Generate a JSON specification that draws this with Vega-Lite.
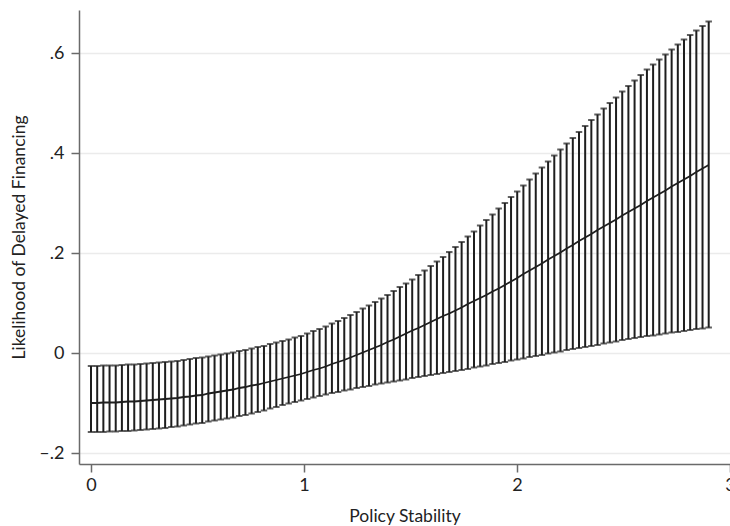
{
  "$schema": "https://vega.github.io/schema/vega-lite/v6.json",
  "width": 651,
  "height": 454,
  "autosize": {"type": "none"},
  "padding": {"left": 79, "top": 10, "right": 0, "bottom": 62},
  "background": "white",
  "data": {"values": [
    {"x":0,"lo":-0.158,"m":-0.100,"hi":-0.026},
    {"x":0.029,"lo":-0.158,"m":-0.100,"hi":-0.026},
    {"x":0.058,"lo":-0.158,"m":-0.099,"hi":-0.025},
    {"x":0.087,"lo":-0.157,"m":-0.099,"hi":-0.025},
    {"x":0.116,"lo":-0.157,"m":-0.099,"hi":-0.025},
    {"x":0.145,"lo":-0.156,"m":-0.098,"hi":-0.024},
    {"x":0.174,"lo":-0.156,"m":-0.097,"hi":-0.023},
    {"x":0.203,"lo":-0.155,"m":-0.097,"hi":-0.023},
    {"x":0.232,"lo":-0.154,"m":-0.096,"hi":-0.022},
    {"x":0.261,"lo":-0.153,"m":-0.095,"hi":-0.021},
    {"x":0.290,"lo":-0.152,"m":-0.094,"hi":-0.020},
    {"x":0.319,"lo":-0.151,"m":-0.093,"hi":-0.019},
    {"x":0.348,"lo":-0.150,"m":-0.092,"hi":-0.018},
    {"x":0.377,"lo":-0.148,"m":-0.091,"hi":-0.017},
    {"x":0.406,"lo":-0.147,"m":-0.090,"hi":-0.016},
    {"x":0.435,"lo":-0.145,"m":-0.088,"hi":-0.014},
    {"x":0.464,"lo":-0.143,"m":-0.087,"hi":-0.012},
    {"x":0.493,"lo":-0.141,"m":-0.085,"hi":-0.010},
    {"x":0.522,"lo":-0.140,"m":-0.084,"hi":-0.009},
    {"x":0.551,"lo":-0.137,"m":-0.081,"hi":-0.007},
    {"x":0.580,"lo":-0.135,"m":-0.079,"hi":-0.005},
    {"x":0.609,"lo":-0.133,"m":-0.077,"hi":-0.003},
    {"x":0.638,"lo":-0.131,"m":-0.075,"hi":-0.001},
    {"x":0.667,"lo":-0.129,"m":-0.073,"hi":0.001},
    {"x":0.696,"lo":-0.126,"m":-0.070,"hi":0.004},
    {"x":0.725,"lo":-0.124,"m":-0.068,"hi":0.006},
    {"x":0.754,"lo":-0.121,"m":-0.065,"hi":0.009},
    {"x":0.783,"lo":-0.118,"m":-0.063,"hi":0.012},
    {"x":0.812,"lo":-0.115,"m":-0.060,"hi":0.014},
    {"x":0.841,"lo":-0.111,"m":-0.057,"hi":0.018},
    {"x":0.870,"lo":-0.108,"m":-0.054,"hi":0.021},
    {"x":0.899,"lo":-0.104,"m":-0.051,"hi":0.024},
    {"x":0.928,"lo":-0.101,"m":-0.048,"hi":0.027},
    {"x":0.957,"lo":-0.098,"m":-0.045,"hi":0.031},
    {"x":0.986,"lo":-0.095,"m":-0.042,"hi":0.034},
    {"x":1.015,"lo":-0.092,"m":-0.038,"hi":0.039},
    {"x":1.044,"lo":-0.089,"m":-0.034,"hi":0.044},
    {"x":1.073,"lo":-0.086,"m":-0.031,"hi":0.048},
    {"x":1.102,"lo":-0.083,"m":-0.027,"hi":0.053},
    {"x":1.131,"lo":-0.080,"m":-0.022,"hi":0.059},
    {"x":1.160,"lo":-0.078,"m":-0.018,"hi":0.064},
    {"x":1.189,"lo":-0.075,"m":-0.014,"hi":0.070},
    {"x":1.218,"lo":-0.073,"m":-0.009,"hi":0.076},
    {"x":1.247,"lo":-0.070,"m":-0.004,"hi":0.082},
    {"x":1.276,"lo":-0.068,"m":0.001,"hi":0.089},
    {"x":1.305,"lo":-0.066,"m":0.006,"hi":0.095},
    {"x":1.334,"lo":-0.063,"m":0.011,"hi":0.102},
    {"x":1.363,"lo":-0.061,"m":0.016,"hi":0.109},
    {"x":1.392,"lo":-0.059,"m":0.022,"hi":0.116},
    {"x":1.421,"lo":-0.057,"m":0.027,"hi":0.124},
    {"x":1.450,"lo":-0.055,"m":0.033,"hi":0.132},
    {"x":1.479,"lo":-0.053,"m":0.039,"hi":0.139},
    {"x":1.508,"lo":-0.050,"m":0.045,"hi":0.147},
    {"x":1.537,"lo":-0.048,"m":0.050,"hi":0.156},
    {"x":1.566,"lo":-0.046,"m":0.056,"hi":0.165},
    {"x":1.595,"lo":-0.044,"m":0.062,"hi":0.174},
    {"x":1.624,"lo":-0.042,"m":0.068,"hi":0.183},
    {"x":1.653,"lo":-0.040,"m":0.074,"hi":0.192},
    {"x":1.682,"lo":-0.038,"m":0.079,"hi":0.202},
    {"x":1.711,"lo":-0.036,"m":0.085,"hi":0.212},
    {"x":1.740,"lo":-0.034,"m":0.091,"hi":0.222},
    {"x":1.769,"lo":-0.032,"m":0.098,"hi":0.233},
    {"x":1.798,"lo":-0.029,"m":0.104,"hi":0.243},
    {"x":1.827,"lo":-0.027,"m":0.110,"hi":0.255},
    {"x":1.856,"lo":-0.025,"m":0.116,"hi":0.266},
    {"x":1.885,"lo":-0.022,"m":0.123,"hi":0.277},
    {"x":1.914,"lo":-0.020,"m":0.129,"hi":0.289},
    {"x":1.943,"lo":-0.018,"m":0.136,"hi":0.300},
    {"x":1.972,"lo":-0.015,"m":0.143,"hi":0.312},
    {"x":2.001,"lo":-0.013,"m":0.150,"hi":0.323},
    {"x":2.030,"lo":-0.011,"m":0.158,"hi":0.335},
    {"x":2.059,"lo":-0.008,"m":0.165,"hi":0.347},
    {"x":2.088,"lo":-0.006,"m":0.172,"hi":0.359},
    {"x":2.117,"lo":-0.004,"m":0.179,"hi":0.371},
    {"x":2.146,"lo":-0.001,"m":0.187,"hi":0.383},
    {"x":2.175,"lo":0.001,"m":0.194,"hi":0.395},
    {"x":2.204,"lo":0.003,"m":0.201,"hi":0.407},
    {"x":2.233,"lo":0.006,"m":0.209,"hi":0.419},
    {"x":2.262,"lo":0.008,"m":0.216,"hi":0.430},
    {"x":2.291,"lo":0.010,"m":0.224,"hi":0.442},
    {"x":2.320,"lo":0.012,"m":0.231,"hi":0.454},
    {"x":2.349,"lo":0.014,"m":0.238,"hi":0.466},
    {"x":2.378,"lo":0.016,"m":0.246,"hi":0.477},
    {"x":2.407,"lo":0.019,"m":0.253,"hi":0.489},
    {"x":2.436,"lo":0.021,"m":0.260,"hi":0.500},
    {"x":2.465,"lo":0.023,"m":0.267,"hi":0.511},
    {"x":2.494,"lo":0.026,"m":0.275,"hi":0.523},
    {"x":2.523,"lo":0.028,"m":0.282,"hi":0.534},
    {"x":2.552,"lo":0.030,"m":0.289,"hi":0.545},
    {"x":2.581,"lo":0.032,"m":0.296,"hi":0.556},
    {"x":2.610,"lo":0.034,"m":0.304,"hi":0.567},
    {"x":2.639,"lo":0.035,"m":0.311,"hi":0.577},
    {"x":2.668,"lo":0.037,"m":0.318,"hi":0.587},
    {"x":2.697,"lo":0.039,"m":0.325,"hi":0.597},
    {"x":2.726,"lo":0.041,"m":0.333,"hi":0.607},
    {"x":2.755,"lo":0.042,"m":0.340,"hi":0.617},
    {"x":2.784,"lo":0.044,"m":0.347,"hi":0.627},
    {"x":2.813,"lo":0.046,"m":0.354,"hi":0.636},
    {"x":2.842,"lo":0.048,"m":0.362,"hi":0.645},
    {"x":2.871,"lo":0.049,"m":0.369,"hi":0.654},
    {"x":2.900,"lo":0.051,"m":0.376,"hi":0.663}
  ]},
  "encoding": {
    "x": {
      "field": "x", "type": "quantitative",
      "scale": {"domain": [-0.0564, 3.0], "nice": false, "zero": false},
      "axis": {"title": "Policy Stability", "values": [0, 1, 2, 3], "format": "d", "grid": false, "labelFlush": false}
    }
  },
  "layer": [
    {
      "mark": {"type": "errorbar", "color": "#1e1e1e", "thickness": 2, "ticks": {"size": 6.5, "thickness": 2, "color": "#1e1e1e"}},
      "encoding": {
        "y": {
          "field": "lo", "type": "quantitative",
          "scale": {"domain": [-0.222, 0.686], "nice": false, "zero": false},
          "axis": {
            "title": "Likelihood of Delayed Financing",
            "values": [-0.2, 0, 0.2, 0.4, 0.6],
            "labelExpr": "datum.value == 0 ? '0' : (datum.value < 0 ? '–' : '') + replace(format(abs(datum.value), '.1f'), '0.', '.')",
            "grid": true
          }
        },
        "y2": {"field": "hi"}
      }
    },
    {
      "mark": {"type": "line", "color": "#1e1e1e", "strokeWidth": 1.8},
      "encoding": {
        "y": {"field": "m", "type": "quantitative"}
      }
    }
  ],
  "config": {
    "view": {"stroke": null},
    "font": "Lato",
    "axis": {
      "domainColor": "#6a6a6a",
      "domainWidth": 1.5,
      "tickColor": "#6a6a6a",
      "tickWidth": 1.5,
      "tickSize": 8,
      "labelFont": "Lato",
      "labelFontSize": 18,
      "labelColor": "#222222",
      "titleFont": "Lato",
      "titleFontSize": 17.5,
      "titleFontWeight": "normal",
      "titleColor": "#222222",
      "gridColor": "#ebebeb",
      "gridWidth": 1.5
    },
    "axisX": {"labelPadding": 4, "titlePadding": 13},
    "axisY": {"labelPadding": 7, "titlePadding": 10}
  }
}
